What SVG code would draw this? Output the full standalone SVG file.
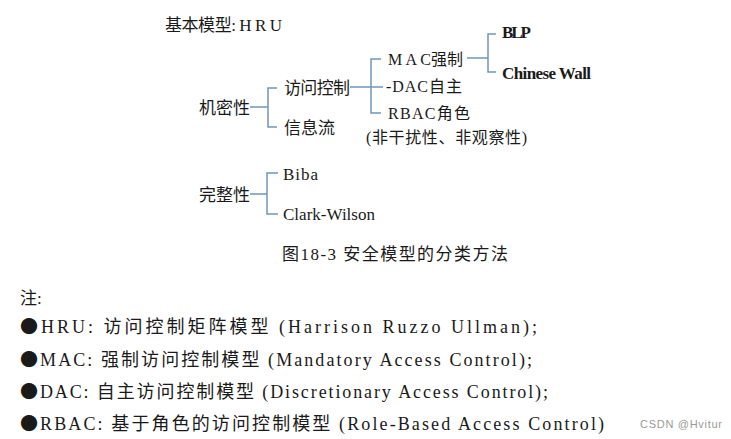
<svg xmlns="http://www.w3.org/2000/svg" width="731" height="439" viewBox="0 0 731 439">
<style>
.t{font-family:"Liberation Serif","Noto Sans CJK SC",serif;fill:#1a1a1a}
.b{font-weight:bold}
.bu{font-family:"Noto Sans CJK SC",sans-serif}
.ln{fill:none;stroke:#6f96b8;stroke-width:1.5}
</style>
<rect width="731" height="439" fill="#ffffff"/>
<g id="title"><text class="t" x="165" y="31" font-size="17" textLength="117">基本模型: H R U</text></g>
<g id="connectors">
<path class="ln" d="M250,107 H268 M277,88 H268 V127 H277"/>
<path class="ln" d="M350,87 H383 M381,59 H371 V113 H381"/>
<path class="ln" d="M467,58 H488 M496,34 H488 V72 H496"/>
<path class="ln" d="M250,194 H267 M278,173 H267 V214 H278"/>
</g>
<g id="n-jimi"><text class="t" x="199" y="114" font-size="17" textLength="51">机密性</text></g>
<g id="n-fangwen"><text class="t" x="284" y="94" font-size="17" textLength="66">访问控制</text></g>
<g id="n-xinxi"><text class="t" x="284" y="134" font-size="17" textLength="51">信息流</text></g>
<g id="n-mac"><text class="t" x="388" y="65" font-size="16" textLength="75">M A C强制</text></g>
<g id="n-dac"><text class="t" x="386" y="92" font-size="16" textLength="76">-DAC自主</text></g>
<g id="n-rbac"><text class="t" x="388" y="119" font-size="16" textLength="82">RBAC角色</text></g>
<g id="n-note"><text class="t" x="366" y="143" font-size="16" textLength="161">(非干扰性、非观察性)</text></g>
<g id="n-blp"><text class="t b" x="502" y="38" font-size="17" textLength="29">BLP</text></g>
<g id="n-cw"><text class="t b" x="502" y="79" font-size="17" textLength="89">Chinese Wall</text></g>
<g id="n-wanzheng"><text class="t" x="199" y="201" font-size="17" textLength="51">完整性</text></g>
<g id="n-biba"><text class="t" x="283" y="180" font-size="17" textLength="35">Biba</text></g>
<g id="n-clark"><text class="t" x="283" y="220" font-size="17" textLength="92">Clark-Wilson</text></g>
<g id="caption"><text class="t" x="282" y="260" font-size="17" textLength="226">图18-3  安全模型的分类方法</text></g>
<g id="notes">
<text class="t" x="20" y="304" font-size="17">注:</text>
<text class="t" x="20" y="333" font-size="18" textLength="517"><tspan class="bu">●</tspan>HRU: 访问控制矩阵模型 (Harrison Ruzzo Ullman);</text>
<text class="t" x="20" y="366" font-size="18" textLength="512"><tspan class="bu">●</tspan>MAC: 强制访问控制模型 (Mandatory Access Control);</text>
<text class="t" x="20" y="398" font-size="18" textLength="528"><tspan class="bu">●</tspan>DAC: 自主访问控制模型 (Discretionary Access Control);</text>
<text class="t" x="20" y="430" font-size="18" textLength="584"><tspan class="bu">●</tspan>RBAC: 基于角色的访问控制模型 (Role-Based Access Control)</text>
</g>
<text x="640" y="428" font-family="'Liberation Sans',sans-serif" font-size="11" fill="#9a9a9a" textLength="82">CSDN @Hvitur</text>
</svg>
